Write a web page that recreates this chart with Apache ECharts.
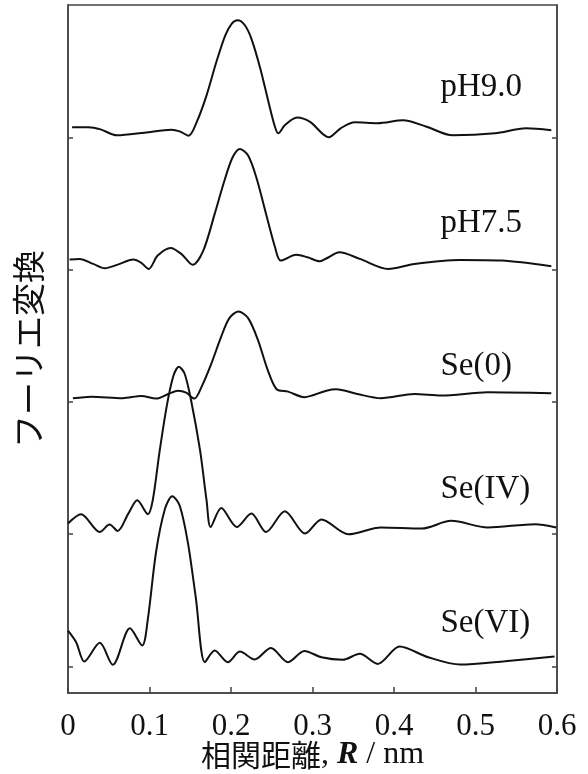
<!DOCTYPE html>
<html>
<head>
<meta charset="utf-8">
<script src="https://cdn.jsdelivr.net/npm/echarts@6/dist/echarts.min.js"></script>
<style>
  html, body { margin: 0; padding: 0; background: #fff; }
  #chart { width: 588px; height: 774px; }
</style>
</head>
<body>
<div id="chart"></div>
<script>
// 各スペクトル [R(nm), 強度]（基線からの相対値）
const ph90 = [
  [0.005, 0.076], [0.025, 0.076], [0.040, 0.06], [0.060, 0.015], [0.094, 0.035],
  [0.127, 0.058], [0.137, 0.045], [0.148, 0.012], [0.158, 0.116], [0.170, 0.317],
  [0.182, 0.569], [0.193, 0.771], [0.201, 0.859], [0.208, 0.884], [0.217, 0.847],
  [0.225, 0.746], [0.236, 0.519], [0.246, 0.267], [0.254, 0.078], [0.258, 0.03],
  [0.266, 0.091], [0.281, 0.149], [0.297, 0.116], [0.320, 0.0], [0.335, 0.07],
  [0.352, 0.113], [0.380, 0.106], [0.411, 0.128], [0.440, 0.08], [0.472, 0.015],
  [0.524, 0.030], [0.562, 0.068], [0.593, 0.053]
]
const ph75 = [
  [0.002, 0.076], [0.014, 0.081], [0.031, 0.043], [0.045, 0.010], [0.061, 0.038],
  [0.080, 0.076], [0.090, 0.051], [0.099, 0.005], [0.110, 0.106], [0.126, 0.164],
  [0.139, 0.119], [0.153, 0.036], [0.166, 0.144], [0.180, 0.421], [0.192, 0.673],
  [0.202, 0.849], [0.211, 0.912], [0.221, 0.862], [0.231, 0.698], [0.243, 0.421],
  [0.254, 0.169], [0.261, 0.068], [0.280, 0.113], [0.294, 0.093], [0.309, 0.063],
  [0.318, 0.088], [0.333, 0.131], [0.358, 0.081], [0.393, 0.005], [0.425, 0.043],
  [0.481, 0.073], [0.532, 0.068], [0.593, 0.025]
]
const se0 = [
  [0.006, 0.028], [0.029, 0.040], [0.067, 0.028], [0.090, 0.045], [0.108, 0.025],
  [0.123, 0.060], [0.135, 0.085], [0.145, 0.070], [0.155, 0.025], [0.164, 0.116],
  [0.176, 0.292], [0.188, 0.494], [0.198, 0.633], [0.209, 0.683], [0.221, 0.633],
  [0.233, 0.469], [0.245, 0.242], [0.256, 0.096], [0.270, 0.078], [0.290, 0.036],
  [0.317, 0.085], [0.329, 0.096], [0.355, 0.06], [0.384, 0.028], [0.425, 0.060],
  [0.458, 0.048], [0.515, 0.073], [0.593, 0.066]
]
const se4 = [
  [0.0, 0.081], [0.016, 0.151], [0.039, 0.017], [0.051, 0.073], [0.061, 0.025],
  [0.074, 0.156], [0.085, 0.257], [0.098, 0.151], [0.104, 0.257], [0.112, 0.610],
  [0.121, 0.963], [0.129, 1.19], [0.136, 1.265], [0.143, 1.215], [0.151, 1.013],
  [0.162, 0.635], [0.170, 0.257], [0.175, 0.055], [0.188, 0.198], [0.207, 0.055],
  [0.225, 0.156], [0.243, 0.017], [0.266, 0.174], [0.291, 0.005], [0.311, 0.111],
  [0.344, 0.0], [0.384, 0.051], [0.434, 0.043], [0.470, 0.101], [0.515, 0.051],
  [0.573, 0.076], [0.599, 0.051]
]
const se6 = [
  [0.0, 0.272], [0.010, 0.184], [0.020, 0.038], [0.039, 0.179], [0.055, 0.013],
  [0.076, 0.289], [0.091, 0.159], [0.098, 0.360], [0.108, 0.864], [0.119, 1.192],
  [0.128, 1.287], [0.137, 1.217], [0.147, 0.940], [0.157, 0.512], [0.168, 0.033],
  [0.180, 0.121], [0.196, 0.033], [0.211, 0.113], [0.229, 0.053], [0.249, 0.141],
  [0.270, 0.033], [0.290, 0.118], [0.311, 0.070], [0.337, 0.051], [0.358, 0.096],
  [0.380, 0.020], [0.407, 0.151], [0.442, 0.070], [0.481, 0.015], [0.536, 0.040],
  [0.597, 0.076]
]

const names = ['pH9.0', 'pH7.5', 'Se(0)', 'Se(IV)', 'Se(VI)']
const curves = [ph90, ph75, se0, se4, se6]
const offsets = [4, 3, 2, 1, 0] // 縦方向のずらし
const labelY = [0.374, 0.351, 0.268, 0.336, 0.329] // ラベル位置（基線から）
const labelX = 0.457
const xTicks = [0, 0.1, 0.2, 0.3, 0.4, 0.5, 0.6]

const serif = '"Liberation Serif", "DejaVu Serif", serif'
const frame = '#444'

const series = curves.map((d, i) => ({
  name: names[i],
  type: 'line',
  smooth: 0.3,
  symbol: 'none',
  lineStyle: { color: '#111', width: 2 },
  data: d.map(p => [p[0], p[1] + offsets[i]]),
  markPoint: {
    symbol: 'circle',
    symbolSize: 0,
    itemStyle: { color: 'transparent' },
    label: {
      show: true,
      position: 'inside',
      formatter: names[i],
      color: '#111',
      fontFamily: serif,
      fontSize: 33,
      align: 'left',
      verticalAlign: 'middle',
    },
    data: [{ coord: [labelX, offsets[i] + labelY[i]] }],
  },
}))

const option = {
  backgroundColor: '#fff',
  animation: false,
  grid: {
    left: 68,
    right: 31,
    top: 5,
    bottom: 81,
    outerBoundsMode: 'none',
    show: true,
    borderColor: frame,
    borderWidth: 1.5,
  },
  xAxis: {
    type: 'value',
    min: 0,
    max: 0.6,
    interval: 0.1,
    name: '{jp|相関距離}{en|, }{it|R}{en| / nm}',
    nameLocation: 'middle',
    nameGap: 46,
    nameMoveOverlap: false,
    nameTextStyle: {
      rich: {
        jp: { fontFamily: '"Noto Sans CJK JP"', fontSize: 30, color: '#111' },
        en: { fontFamily: serif, fontSize: 32, color: '#111' },
        it: { fontFamily: serif, fontSize: 32, fontStyle: 'italic', fontWeight: 'bold', color: '#111' },
      },
    },
    axisLine: { onZero: false, lineStyle: { color: frame, width: 1.5 } },
    axisTick: { inside: true, length: 6, lineStyle: { color: frame, width: 1.5 } },
    splitLine: { show: false },
    axisLabel: {
      margin: 18,
      color: '#111',
      fontFamily: serif,
      fontSize: 31,
      formatter: v => xTicks.includes(Math.round(v * 10) / 10) ? String(Math.round(v * 10) / 10) : '',
    },
  },
  yAxis: [
    {
      type: 'value',
      min: -0.2,
      max: 5.0,
      name: 'フーリエ変換',
      nameLocation: 'middle',
      nameGap: 23,
      nameTextStyle: { fontFamily: '"Noto Sans CJK JP"', fontSize: 33, color: '#111' },
      axisLine: { show: true, onZero: false, lineStyle: { color: frame, width: 1.5 } },
      axisTick: { show: true, inside: true, length: 5, customValues: offsets, lineStyle: { color: frame, width: 1.5 } },
      axisLabel: { show: false },
      splitLine: { show: false },
    },
    {
      type: 'value',
      position: 'right',
      min: -0.2,
      max: 5.0,
      axisLine: { show: true, onZero: false, lineStyle: { color: frame, width: 1.5 } },
      axisTick: { show: true, inside: true, length: 5, customValues: offsets, lineStyle: { color: frame, width: 1.5 } },
      axisLabel: { show: false },
      splitLine: { show: false },
    },
  ],
  series: series,
}

echarts.init(document.getElementById('chart')).setOption(option)
</script>
</body>
</html>
